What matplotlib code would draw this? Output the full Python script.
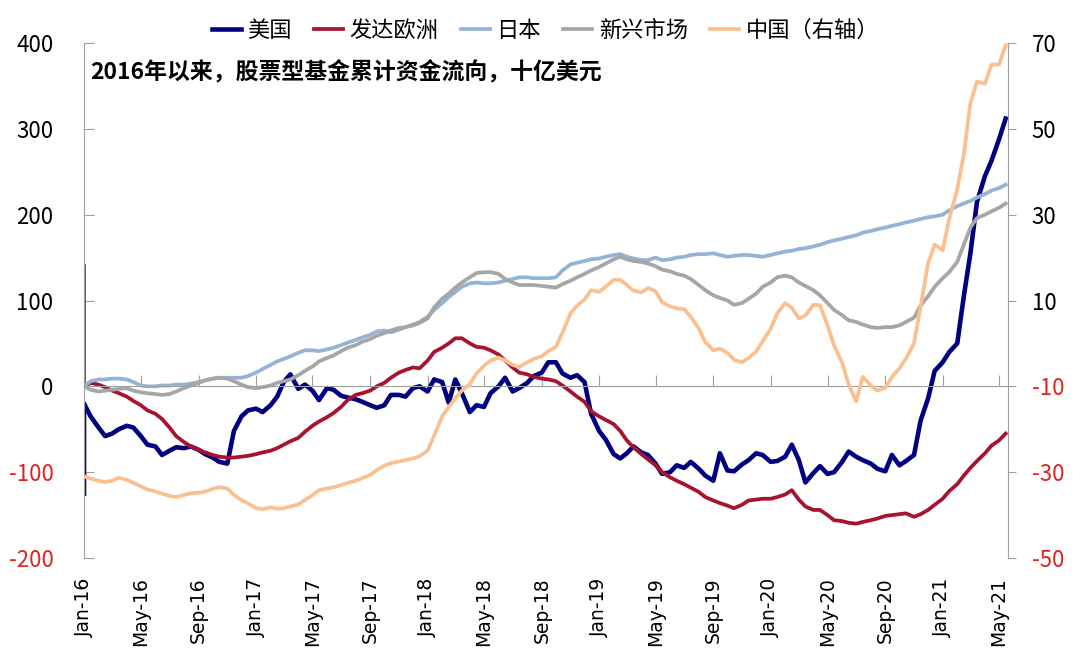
import matplotlib

matplotlib.use("Agg")
import matplotlib.dates as mdates
import matplotlib.pyplot as plt
import pandas as pd

plt.rcParams["font.family"] = ["Noto Sans CJK SC", "DejaVu Sans"]
plt.rcParams["axes.unicode_minus"] = False

# semi-monthly sampling; first entry repeats Jan-16 to hold the opening spike
dates = pd.DatetimeIndex(["2016-01-01"]).append(
    pd.date_range("2016-01-01", "2021-05-15", freq="SMS")
)

us = [
    -125,
    -20, -35, -48, -58, -55, -50, -46, -48, -58, -68,
    -70, -80, -75, -71, -72, -70, -74, -79, -83, -88,
    -90, -52, -35, -28, -26, -30, -22, -12, 5, 14,
    -3, 2, -5, -16, -2, -4, -11, -13, -15, -18,
    -22, -25, -22, -10, -10, -12, -2, 0, -6, 8,
    5, -19, 8, -8, -30, -22, -24, -8, 0, 10,
    -6, -2, 4, 12, 16, 28, 28, 15, 10, 13,
    5, -32, -52, -62, -79, -84, -78, -70, -77, -80,
    -90, -102, -100, -92, -95, -88, -96, -104, -110, -78,
    -98, -99, -91, -86, -78, -80, -88, -87, -82, -68,
    -86, -112, -101, -93, -102, -100, -88, -76, -82, -86,
    -90, -96, -99, -80, -92, -87, -80, -40, -14, 18,
    28, 40, 50, 105, 155, 215, 245, 263, 288, 312,
]
europe = [
    140,
    0, 4, 2, -1, -5, -8, -12, -17, -22, -28,
    -32, -38, -48, -58, -65, -70, -74, -77, -80, -82,
    -83, -83, -82, -81, -79, -77, -75, -72, -68, -64,
    -60, -53, -46, -41, -36, -31, -24, -16, -10, -8,
    -5, 0, 4, 10, 16, 19, 22, 21, 30, 40,
    45, 50, 56, 56, 50, 46, 45, 42, 37, 30,
    22, 16, 14, 11, 9, 8, 6, 1, -6, -12,
    -18, -29, -35, -39, -44, -52, -63, -71, -79, -85,
    -92, -100, -106, -110, -114, -118, -123, -129, -133, -136,
    -139, -142, -138, -133, -132, -131, -131, -129, -126, -121,
    -132, -140, -144, -144, -150, -156, -157, -159, -160, -158,
    -156, -154, -151, -150, -149, -148, -152, -149, -144, -138,
    -131, -122, -114, -104, -95, -87, -78, -69, -63, -55,
]
japan = [
    0,
    0, 6, 8, 8, 9, 9, 8, 5, 1, 0,
    0, 1, 1, 2, 2, 3, 5, 7, 9, 10,
    10, 10, 10, 12, 16, 20, 25, 29, 32, 35,
    39, 42, 42, 41, 43, 45, 48, 51, 54, 57,
    60, 64, 65, 63, 66, 69, 72, 75, 81, 89,
    97, 104, 110, 116, 120, 121, 120, 120, 121, 123,
    125, 127, 127, 126, 126, 126, 127, 135, 142, 144,
    146, 148, 149, 151, 153, 154, 151, 149, 147, 147,
    150, 147, 148, 150, 151, 153, 154, 154, 155, 153,
    151, 152, 153, 153, 152, 151, 153, 155, 157, 158,
    160, 161, 163, 165, 168, 170, 172, 174, 176, 179,
    181, 183, 185, 187, 189, 191, 193, 195, 197, 198,
    200, 205, 210, 213, 216, 220, 224, 228, 231, 235,
]
emerging = [
    0,
    0, -4, -6, -5, -4, -3, -2, -5, -7, -8,
    -9, -10, -9, -6, -2, 1, 4, 7, 9, 10,
    9, 6, 2, -1, -2, -1, 1, 4, 6, 8,
    13, 18, 23, 29, 33, 36, 41, 45, 48, 52,
    55, 59, 62, 65, 68, 69, 71, 74, 79, 92,
    102, 108, 115, 121, 127, 132, 133, 133, 131, 125,
    121, 118, 118, 118, 117, 116, 115, 119, 123, 127,
    131, 135, 139, 143, 148, 151, 148, 146, 145, 143,
    140, 136, 134, 131, 129, 125, 118, 112, 106, 103,
    100, 95, 97, 102, 108, 116, 121, 127, 129, 127,
    121, 117, 112, 106, 97, 89, 83, 77, 75, 72,
    69, 68, 69, 69, 71, 75, 80, 94, 105, 116,
    126, 133, 145, 165, 185, 196, 200, 204, 208, 213,
]
china = [
    -31,
    -31, -31.5, -32, -32.3, -32, -31.3, -31.8, -32.5, -33.3, -34,
    -34.5, -35, -35.5, -35.8, -35.3, -34.9, -34.8, -34.5, -33.9, -33.5,
    -33.8, -35.3, -36.5, -37.3, -38.4, -38.6, -38.2, -38.5, -38.4, -38.0,
    -37.5, -36.5, -35.4, -34.2, -33.8, -33.5, -33.0, -32.5, -32.0, -31.4,
    -30.6, -29.5, -28.5, -27.9, -27.5, -27.2, -26.8, -26.3, -25.0, -21.5,
    -17.0, -14.8, -12.8, -11.0, -9.5, -7.0, -5.2, -4.0, -3.3, -4.0,
    -5.0, -5.5, -4.4, -3.6, -3.0, -1.8, -0.8, 2.5, 7.0, 8.8,
    10.2, 12.4, 12.0, 13.2, 14.8, 14.8, 13.6, 12.3, 11.9, 12.9,
    12.2, 9.6, 8.6, 8.2, 8.0, 6.2, 3.5, 0.3, -1.6, -1.2,
    -2.2, -3.8, -4.4, -3.4, -1.9, 0.5, 3.4, 7.0, 9.4, 8.3,
    5.8, 6.5, 9.0, 8.9, 4.2, -0.5, -4.5, -9.5, -13.5, -7.8,
    -9.8, -11.0, -10.3, -7.8, -5.8, -3.5, 0.0, 8.5, 18.7, 23.0,
    21.7, 29.0, 36.0, 44.0, 56.0, 61.0, 60.5, 65.0, 65.0, 69.5,
]

series_names = ["美国", "发达欧洲", "日本", "新兴市场", "中国（右轴）"]
left_ticks = [-200, -100, 0, 100, 200, 300, 400]
right_ticks = [-50, -30, -10, 10, 30, 50, 70]
tick_dates = pd.date_range("2016-01-01", "2021-05-01", freq="4MS")
tick_labels = [d.strftime("%b-%y") for d in tick_dates]
title = "2016年以来，股票型基金累计资金流向，十亿美元"

RED_TXT = "#E02424"
GRAY = "#A0A0A0"

fig = plt.figure(figsize=(10.8, 6.71), dpi=100)
ax = fig.add_axes([84 / 1080, 1 - 558 / 671, 924 / 1080, 515 / 671])
ax2 = ax.twinx()

l1, = ax.plot(dates, us, color="#000080", lw=3.3, label=series_names[0])
l2, = ax.plot(dates, europe, color="#A6142F", lw=2.7, label=series_names[1])
l3, = ax.plot(dates, japan, color="#95B3D7", lw=2.7, label=series_names[2])
l4, = ax.plot(dates, emerging, color="#A6A6A6", lw=2.7, label=series_names[3])
l5, = ax2.plot(dates, china, color="#FAC090", lw=2.7, label=series_names[4])

ax.set_xlim(pd.Timestamp("2016-01-01"), pd.Timestamp("2021-05-20"))
ax.set_ylim(-200, 400)
ax2.set_ylim(-50, 70)

# left axis
ax.set_yticks(left_ticks, labels=[str(v) for v in left_ticks])
for lab, v in zip(ax.get_yticklabels(), left_ticks):
    lab.set_color(RED_TXT if v < 0 else "black")
ax.tick_params(axis="y", direction="in", length=7, color=GRAY, pad=22, labelsize=16)

# right axis
ax2.set_yticks(right_ticks, labels=[str(v) for v in right_ticks])
for lab, v in zip(ax2.get_yticklabels(), right_ticks):
    lab.set_color(RED_TXT if v < 0 else "black")
ax2.tick_params(axis="y", direction="out", length=6, color=GRAY, pad=11, labelsize=16)

for s in ["top", "right"]:
    ax.spines[s].set_visible(False)
ax.spines["left"].set_color(GRAY)
ax.spines["bottom"].set_position(("data", 0))
ax.spines["bottom"].set_color(GRAY)
for s in ["top", "left", "bottom"]:
    ax2.spines[s].set_visible(False)
ax2.spines["right"].set_color(GRAY)

# date ticks on the zero line, labels at the bottom
ax.set_xticks(mdates.date2num(tick_dates))
ax.tick_params(axis="x", direction="in", length=8, color=GRAY, labelbottom=False)
sec = ax.secondary_xaxis("bottom")
sec.set_ticks(mdates.date2num(tick_dates), labels=tick_labels)
sec.spines["bottom"].set_visible(False)
sec.tick_params(axis="x", length=0, pad=14, labelrotation=90, labelsize=13.5)
for lab in sec.get_xticklabels():
    lab.set_family("DejaVu Sans")
    lab.set_va("top")

ax.text(0.0065, 0.942, title, transform=ax.transAxes, fontsize=16.5,
        fontweight="bold", va="center", ha="left")

fig.legend([l1, l2, l3, l4, l5], series_names, loc="center",
           bbox_to_anchor=(0.505, 0.955), ncol=5, frameon=False, fontsize=16,
           handlelength=1.3, handletextpad=0.3, columnspacing=1.0)

fig.savefig("out.png", dpi=100)
plt.close(fig)
